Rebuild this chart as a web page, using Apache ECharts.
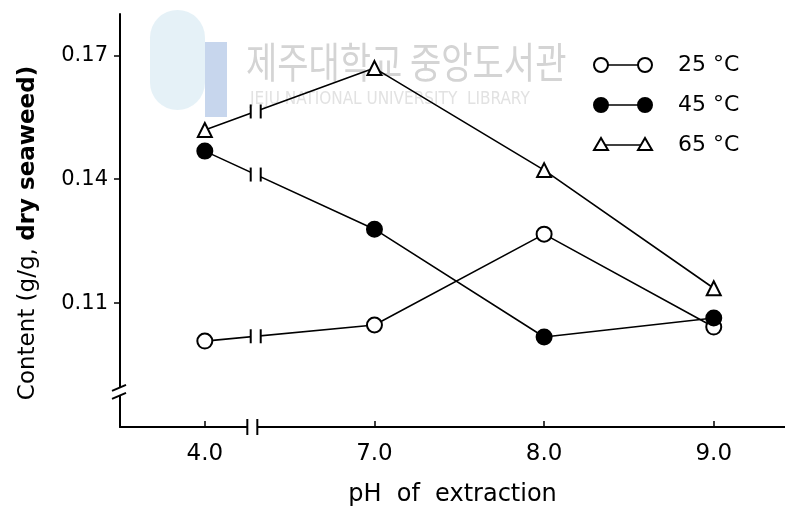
<!DOCTYPE html>
<html>
<head>
<meta charset="utf-8">
<script src="https://cdn.jsdelivr.net/npm/echarts@6/dist/echarts.min.js"></script>
<style>
  html, body { margin: 0; padding: 0; background: #fff; }
  #chart { width: 785px; height: 518px; }
</style>
</head>
<body>
<div id="chart"></div>
<script>
// pH categories (x), content values (g/g dry seaweed)
const phLabels = ['4.0', '7.0', '8.0', '9.0']
const yTicks = [0.11, 0.14, 0.17]
const temp25 = [0.1008, 0.1047, 0.1267, 0.1042]
const temp45 = [0.1468, 0.1279, 0.1018, 0.1064]
const temp65 = [0.1519, 0.1669, 0.1422, 0.1136]
const legendNames = ['25 °C', '45 °C', '65 °C']

const FONT = 'DejaVu Sans'
const chart = echarts.init(document.getElementById('chart'))

const toPairs = arr => arr.map((v, i) => [i, v])

const lineSeries = (name, data, symbol, fill, size) => ({
  name,
  type: 'line',
  data: toPairs(data),
  symbol,
  symbolSize: size,
  showSymbol: true,
  lineStyle: { color: '#000', width: 1.6 },
  itemStyle: { color: fill, borderColor: '#000', borderWidth: 2 },
  z: 5
})

const option = {
  animation: false,
  backgroundColor: '#fff',
  grid: { left: 120, right: 0, top: 14, bottom: 91 },
  xAxis: {
    type: 'value',
    min: -0.5,
    max: 3.42,
    name: 'pH  of  extraction',
    nameLocation: 'middle',
    nameGap: 56,
    nameTextStyle: { fontFamily: FONT, fontSize: 24, color: '#000' },
    axisLine: { onZero: false, lineStyle: { color: '#000', width: 2 } },
    axisTick: { inside: true, length: 6, customValues: [0, 1, 2, 3], lineStyle: { color: '#000', width: 1.5 } },
    axisLabel: {
      customValues: [0, 1, 2, 3],
      formatter: v => phLabels[Math.round(v)],
      fontFamily: FONT, fontSize: 23, color: '#000', margin: 16
    },
    splitLine: { show: false }
  },
  yAxis: {
    type: 'value',
    min: 0.08,
    max: 0.18,
    axisLine: { onZero: false, lineStyle: { color: '#000', width: 2 } },
    axisTick: { length: 6, customValues: yTicks, lineStyle: { color: '#000', width: 1.5 } },
    axisLabel: {
      customValues: yTicks,
      formatter: v => v.toFixed(2),
      fontFamily: FONT, fontSize: 21, color: '#000', margin: 12
    },
    splitLine: { show: false }
  },
  series: [
    lineSeries(legendNames[0], temp25, 'circle', '#fff', 15),
    lineSeries(legendNames[1], temp45, 'circle', '#000', 15),
    lineSeries(legendNames[2], temp65, 'triangle', '#fff', 14)
  ]
}

chart.setOption(option)

// break marks, legend, y title and watermark drawn as graphics
const g = []
const px = (x, y) => chart.convertToPixel({ gridIndex: 0 }, [x, y])
const brk = 0.3

// watermark
g.push({
  type: 'rect', shape: { x: 150, y: 10, width: 55, height: 100, r: 28 },
  style: { fill: 'rgba(150,200,225,0.25)' }, z: 0
})
g.push({
  type: 'rect', shape: { x: 205, y: 42, width: 22, height: 75 },
  style: { fill: 'rgba(130,165,215,0.45)' }, z: 0
})
g.push({
  type: 'text', x: 246, y: 62, scaleY: 1.25,
  style: { text: '제주대학교 중앙도서관', font: '34px "Noto Sans CJK KR"', fill: '#d4d4d4', verticalAlign: 'middle' }, z: 0
})
g.push({
  type: 'text', x: 250, y: 100,
  style: { text: 'JEJU NATIONAL UNIVERSITY  LIBRARY', font: '17px "DejaVu Sans Condensed"', fill: '#e2e2e2', verticalAlign: 'middle' }, z: 0
})

// y axis title
g.push({
  type: 'text', x: 28, y: 233, rotation: Math.PI / 2,
  style: {
    text: 'Content (g/g, {b|dry seaweed)}',
    font: '23px "DejaVu Sans"', fill: '#000', align: 'center', verticalAlign: 'middle',
    rich: { b: { fontFamily: FONT, fontSize: 23, fontWeight: 'bold', fill: '#000' } }
  },
  z: 10
})

// series breaks between 4.0 and 7.0
;[temp25, temp45, temp65].forEach(arr => {
  const v = arr[0] + brk * (arr[1] - arr[0])
  const [cx, cy] = px(brk, v)
  g.push({ type: 'rect', shape: { x: cx - 5, y: cy - 5, width: 10, height: 10 }, style: { fill: '#fff' }, z: 50 })
  ;[-5, 5].forEach(d => g.push({
    type: 'line', shape: { x1: cx + d, y1: cy - 7, x2: cx + d, y2: cy + 7 },
    style: { stroke: '#000', lineWidth: 2 }, z: 51
  }))
})

// x axis break
{
  const [cx, cy] = px(brk - 0.02, 0.08)
  g.push({ type: 'rect', shape: { x: cx - 5, y: cy - 4, width: 10, height: 8 }, style: { fill: '#fff' }, z: 50 })
  ;[-5, 5].forEach(d => g.push({
    type: 'line', shape: { x1: cx + d, y1: cy - 8, x2: cx + d, y2: cy + 8 },
    style: { stroke: '#000', lineWidth: 2 }, z: 51
  }))
}

// y axis break
{
  const [cx, cy] = px(-0.5, 0.0885)
  g.push({ type: 'rect', shape: { x: cx - 4, y: cy - 4, width: 8, height: 8 }, style: { fill: '#fff' }, z: 50 })
  ;[-4, 4].forEach(d => g.push({
    type: 'line', shape: { x1: cx - 8, y1: cy + d + 3, x2: cx + 6, y2: cy + d - 3 },
    style: { stroke: '#000', lineWidth: 2 }, z: 51
  }))
}

// legend
const legendRows = [
  { y: 65, kind: 'open' },
  { y: 105, kind: 'filled' },
  { y: 145, kind: 'tri' }
]
legendRows.forEach((row, i) => {
  const x1 = 601, x2 = 645
  g.push({ type: 'line', shape: { x1, y1: row.y, x2, y2: row.y }, style: { stroke: '#000', lineWidth: 1.6 }, z: 20 })
  ;[x1, x2].forEach(x => {
    if (row.kind === 'tri') {
      g.push({
        type: 'polygon', shape: { points: [[x, row.y - 7], [x - 7, row.y + 5], [x + 7, row.y + 5]] },
        style: { fill: '#fff', stroke: '#000', lineWidth: 2 }, z: 21
      })
    } else {
      g.push({
        type: 'circle', shape: { cx: x, cy: row.y, r: 7 },
        style: { fill: row.kind === 'filled' ? '#000' : '#fff', stroke: '#000', lineWidth: 2 }, z: 21
      })
    }
  })
  g.push({
    type: 'text', x: 678, y: row.y,
    style: { text: legendNames[i], font: '22px "DejaVu Sans"', fill: '#000', verticalAlign: 'middle' }, z: 21
  })
})

chart.setOption({ graphic: g })
</script>
</body>
</html>
